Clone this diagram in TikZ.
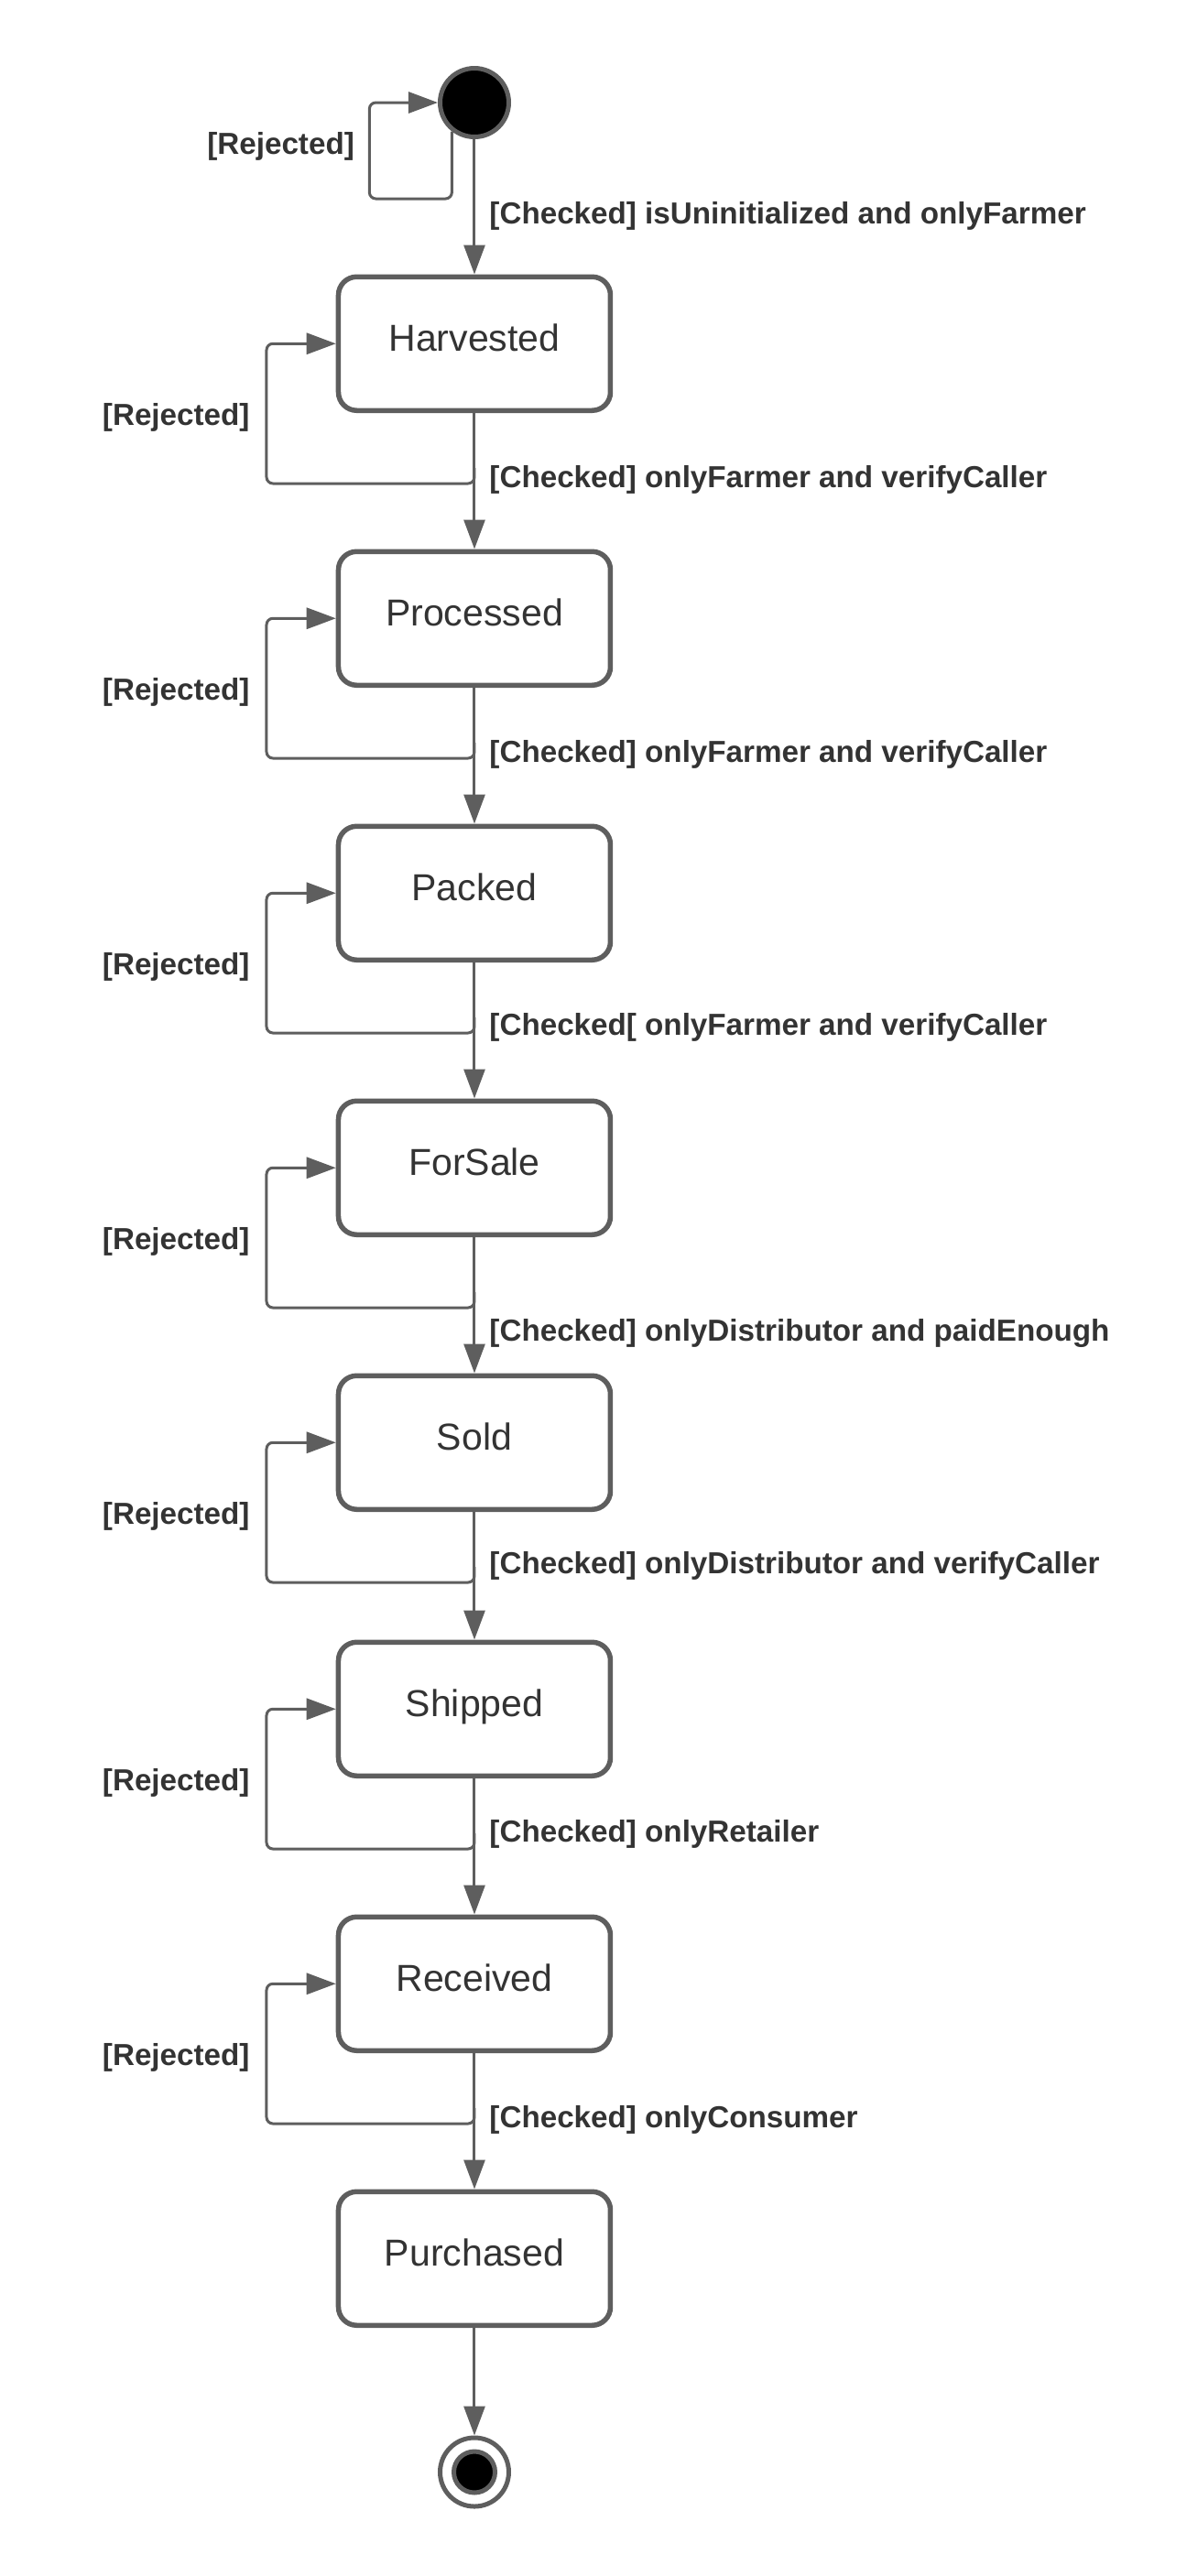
\documentclass[tikz,border=0pt]{standalone}
\usepackage{fontspec}
\setmainfont{Liberation Sans}
\usetikzlibrary{arrows.meta,positioning,calc}
\definecolor{lgry}{HTML}{5E5E5E}
\definecolor{txt}{HTML}{333333}
\tikzset{
  st/.style  ={draw=lgry,line width=2.75pt,fill=white,rounded corners=10pt,
               minimum width=148.5pt,minimum height=73pt,text depth=7pt,
               font=\fontsize{20.5}{24}\selectfont,text=txt},
  ini/.style ={circle,draw=lgry,line width=2.5pt,fill=black,minimum size=37.5pt,inner sep=0pt},
  fin/.style ={circle,draw=lgry,line width=2.5pt,fill=white,minimum size=37.5pt,inner sep=0pt},
  fdot/.style={circle,draw=lgry,line width=2.5pt,fill=black,minimum size=22.5pt,inner sep=0pt},
  ar/.style  ={-{Triangle[length=16pt,width=11.5pt]},draw=lgry,line width=1.5pt},
  rej/.style ={ar,rounded corners=3.5pt},
  lbl/.style ={font=\fontsize{16.6}{20}\selectfont\bfseries,text=txt,inner sep=0pt,right=7.5pt},
  rlbl/.style={font=\fontsize{16.6}{20}\selectfont\bfseries,text=txt,inner sep=0pt,pos=.235,left=8.5pt},
}
\begin{document}
\begin{tikzpicture}[node distance=74.25pt]
  \useasboundingbox (-259pt,56pt) rectangle (389pt,-1350.5pt);
  \node[ini] (init) at (0,0) {};
  \node[st] (harv) [below=73.75pt of init]{Harvested};
  \node[st] (proc) [below=of harv]{Processed};
  \node[st] (pack) [below=of proc]{Packed};
  \node[st] (sale) [below=of pack]{ForSale};
  \node[st] (sold) [below=of sale]{Sold};
  \node[st] (ship) [below=69.75pt of sold]{Shipped};
  \node[st] (recv) [below=of ship]{Received};
  \node[st] (purch)[below=of recv]{Purchased};
  \node[fin] (final)[below=58.75pt of purch]{};
  \node[fdot] (fcore) at (final) {};

  \draw[ar] (init)--node[lbl,pos=.57]{[Checked] isUninitialized and onlyFarmer}(harv);
  \draw[ar] (harv)--node[lbl,pos=.49]{[Checked] onlyFarmer and verifyCaller}(proc);
  \draw[ar] (proc)--node[lbl,pos=.49]{[Checked] onlyFarmer and verifyCaller}(pack);
  \draw[ar] (pack)--node[lbl,pos=.48]{[Checked[ onlyFarmer and verifyCaller}(sale);
  \draw[ar] (sale)--node[lbl,pos=.71]{[Checked] onlyDistributor and paidEnough}(sold);
  \draw[ar] (sold)--node[lbl,pos=.42]{[Checked] onlyDistributor and verifyCaller}(ship);
  \draw[ar] (ship)--node[lbl,pos=.41]{[Checked] onlyRetailer}(recv);
  \draw[ar] (recv)--node[lbl,pos=.49]{[Checked] onlyConsumer}(purch);
  \draw[ar] (purch)--(final);

  % rejected: back into the same state
  \draw[rej] (init.232)--++(0,-36.75pt)--++(-45pt,0)|-node[rlbl,pos=.27,left=7.5pt]{[Rejected]}(init.west);
  \draw[rej] ([yshift=-30pt]harv.south)--++(0,-8.5pt)--++(-113.5pt,0)|-node[rlbl]{[Rejected]}(harv.west);
  \draw[rej] ([yshift=-30pt]proc.south)--++(0,-8.5pt)--++(-113.5pt,0)|-node[rlbl]{[Rejected]}(proc.west);
  \draw[rej] ([yshift=-30pt]pack.south)--++(0,-8.5pt)--++(-113.5pt,0)|-node[rlbl]{[Rejected]}(pack.west);
  \draw[rej] ([yshift=-30pt]sale.south)--++(0,-8.5pt)--++(-113.5pt,0)|-node[rlbl]{[Rejected]}(sale.west);
  \draw[rej] ([yshift=-30pt]sold.south)--++(0,-8.5pt)--++(-113.5pt,0)|-node[rlbl]{[Rejected]}(sold.west);
  \draw[rej] ([yshift=-30pt]ship.south)--++(0,-8.5pt)--++(-113.5pt,0)|-node[rlbl]{[Rejected]}(ship.west);
  \draw[rej] ([yshift=-30pt]recv.south)--++(0,-8.5pt)--++(-113.5pt,0)|-node[rlbl]{[Rejected]}(recv.west);
\end{tikzpicture}
\end{document}
